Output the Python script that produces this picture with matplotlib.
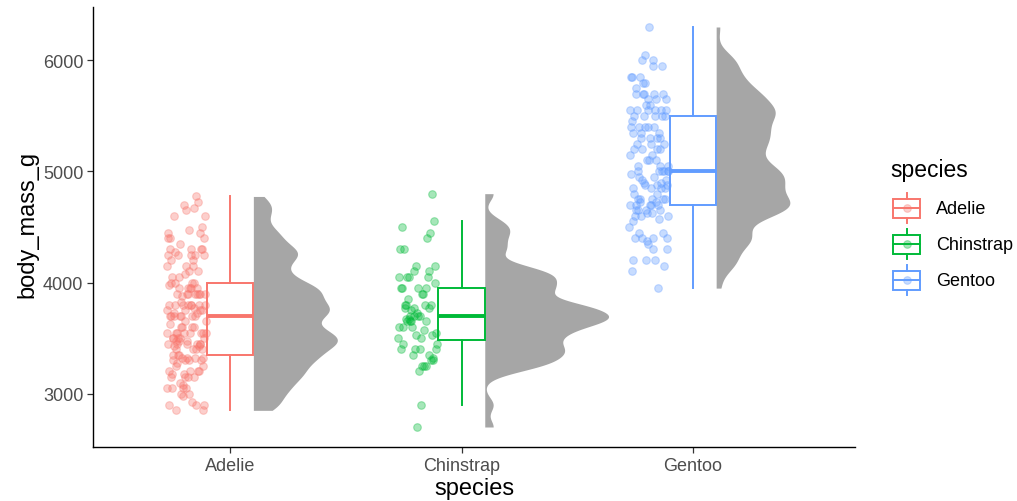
import numpy as np
import matplotlib.pyplot as plt

plt.rcParams['font.family'] = ['Liberation Sans', 'DejaVu Sans']

species = ['Adelie', 'Chinstrap', 'Gentoo']
colors = ['#F8766D', '#00BA38', '#619CFF']
yticks = [3000, 4000, 5000, 6000]

adelie_mass = [
    3750, 3800, 3250, 3450, 3650, 3625, 4675, 3475, 4250, 3300, 3700, 3200,
    3800, 4400, 3700, 3450, 4500, 3325, 4200, 3400, 3600, 3800, 3950, 3800,
    3800, 3550, 3200, 3150, 3950, 3250, 3900, 3300, 3900, 3325, 4150, 3950,
    3550, 3300, 4650, 3150, 3900, 3100, 4400, 3000, 4600, 3425, 2975, 3450,
    4150, 3500, 4300, 3450, 4050, 2900, 3700, 3550, 3800, 2850, 3750, 3150,
    4400, 3600, 4050, 2850, 3950, 3350, 4100, 3050, 4450, 3600, 3900, 3550,
    4150, 3700, 4250, 3700, 3900, 3550, 4000, 3200, 4700, 3800, 4200, 3350,
    3550, 3800, 3500, 3950, 3600, 3550, 4300, 3400, 4450, 3300, 4300, 3700,
    4350, 2900, 4100, 3725, 4725, 3075, 4250, 2925, 3550, 3750, 3900, 3175,
    4775, 3825, 4600, 3200, 4275, 3900, 4075, 2900, 3775, 3350, 3325, 3150,
    3500, 3450, 3875, 3050, 4000, 3275, 4300, 3050, 4000, 3325, 3500, 3500,
    4475, 3425, 3900, 3175, 3975, 3400, 4250, 3400, 3475, 3050, 3725, 3000,
    3650, 4250, 3475, 3450, 3750, 3700, 4000,
]
chinstrap_mass = [
    3500, 3900, 3650, 3525, 3725, 3950, 3250, 3750, 4150, 3700, 3800, 3775,
    3700, 4050, 3575, 4050, 3300, 3700, 3450, 4400, 3600, 3400, 2900, 3800,
    3300, 4150, 3400, 3800, 3700, 4550, 3200, 4300, 3350, 4100, 3600, 3900,
    3850, 4800, 2700, 4500, 3950, 3650, 3550, 3500, 3675, 4450, 3400, 4300,
    3250, 3675, 3325, 3950, 3600, 4050, 3350, 3450, 3250, 4050, 3800, 3525,
    3950, 3650, 3650, 4000, 3400, 3775, 4100, 3775,
]
gentoo_mass = [
    4500, 5700, 4450, 5700, 5400, 4550, 4800, 5200, 4400, 5150, 4650, 5550,
    4650, 5850, 4200, 5850, 4150, 6300, 4800, 5350, 5700, 5000, 4400, 5050,
    5000, 5100, 4100, 5650, 4600, 5550, 5250, 4700, 5050, 6050, 5150, 5400,
    4950, 5250, 4350, 5350, 3950, 5700, 4300, 4750, 5550, 4900, 4200, 5400,
    5100, 5300, 4850, 5300, 4400, 5000, 4900, 5050, 4300, 5000, 4450, 5550,
    4200, 5300, 4400, 5650, 4700, 5700, 4650, 5800, 4700, 5550, 4750, 5000,
    5100, 5200, 4700, 5800, 4600, 6000, 4750, 5950, 4625, 5450, 4725, 5350,
    4750, 5600, 4600, 5300, 4875, 5550, 4950, 5400, 4750, 5650, 4850, 5200,
    4925, 4875, 4625, 5250, 4850, 5600, 4975, 5500, 4725, 5500, 4700, 5500,
    4575, 5500, 5000, 5950, 4650, 5500, 4375, 5850, 4875, 6000, 4925, 4850,
    5750, 5200, 5400,
]


def bw_nrd0(x):
    hi = x.std(ddof=1)
    q75, q25 = np.percentile(x, [75, 25])
    lo = min(hi, (q75 - q25) / 1.34)
    return 0.9 * lo * len(x) ** -0.2


def trimmed_kde(x, adjust=0.5, n=512):
    # gaussian density limited to the range of the data
    grid = np.linspace(x.min(), x.max(), n)
    bw = bw_nrd0(x) * adjust
    z = (grid[:, None] - x[None, :]) / bw
    dens = np.exp(-0.5 * z ** 2).sum(axis=1) / (len(x) * bw * np.sqrt(2 * np.pi))
    return grid, dens


fig = plt.figure(figsize=(10.17, 5.02), dpi=100)
ax = fig.add_axes([93 / 1017, 54 / 502, 762 / 1017, 440 / 502])

groups = [np.array(g, dtype=float) for g in (adelie_mass, chinstrap_mass, gentoo_mass)]
kdes = [trimmed_kde(g) for g in groups]
dmax = max(d.max() for _, d in kdes)

for i, (vals, col, (grid, dens)) in enumerate(zip(groups, colors, kdes)):
    x0 = i + 1

    # half violin on the right
    ax.fill_betweenx(grid, x0 + 0.1, x0 + 0.1 + dens / dmax * 0.535,
                     color='#A6A6A6', lw=0, zorder=1)

    ax.boxplot(vals, positions=[x0], widths=0.2, showfliers=False,
               showcaps=False, patch_artist=True, manage_ticks=False,
               boxprops=dict(facecolor='white', edgecolor=col, lw=1.4),
               whiskerprops=dict(color=col, lw=1.4),
               medianprops=dict(color=col, lw=2.8, solid_capstyle='butt'),
               zorder=2)

    # rain: points shifted left of the box
    k = np.arange(len(vals))
    jit = ((k * 0.6180339887) % 1.0 - 0.5) * 0.17
    ax.scatter(x0 - 0.19 + jit, vals, s=30, color=col, alpha=0.35,
               linewidths=0.8, edgecolors=col, zorder=3)

ax.set_xlim(0.407, 3.70)
ax.set_ylim(2520, 6480)
ax.set_xticks([1, 2, 3])
ax.set_xticklabels(species)
ax.set_yticks(yticks)
ax.tick_params(colors='#333333', labelcolor='#4D4D4D', labelsize=13,
               length=4, width=0.9, pad=3)
for side in ('top', 'right'):
    ax.spines[side].set_visible(False)
for side in ('left', 'bottom'):
    ax.spines[side].set_linewidth(1.0)

fig.text(474 / 1017, 1 - 489 / 502, 'species', ha='center', va='center',
         fontsize=17)
fig.text(27 / 1017, 1 - 224 / 502, 'body_mass_g', ha='center', va='center',
         rotation=90, fontsize=17)

# legend drawn in pixel coordinates
lax = fig.add_axes([0, 0, 1, 1], facecolor='none')
lax.set_xlim(0, 1017)
lax.set_ylim(502, 0)
lax.axis('off')
lax.text(890, 171, 'species', ha='left', va='center', fontsize=16.5)
for r, (name, col) in enumerate(zip(species, colors)):
    yc = 209 + 36 * r
    lax.plot([906.5, 906.5], [yc - 15, yc - 9.5], color=col, lw=1.4)
    lax.plot([906.5, 906.5], [yc + 9.5, yc + 15], color=col, lw=1.4)
    lax.add_patch(plt.Rectangle((893, yc - 9.5), 27, 19, facecolor='white',
                                edgecolor=col, lw=1.4))
    lax.plot([893, 920], [yc, yc], color=col, lw=1.4)
    lax.scatter([906.5], [yc], s=30, color=col, alpha=0.35,
                linewidths=0.8, edgecolors=col)
    lax.text(936, yc + 1, name, ha='left', va='center', fontsize=13)

fig.savefig('out.png', dpi=100)
